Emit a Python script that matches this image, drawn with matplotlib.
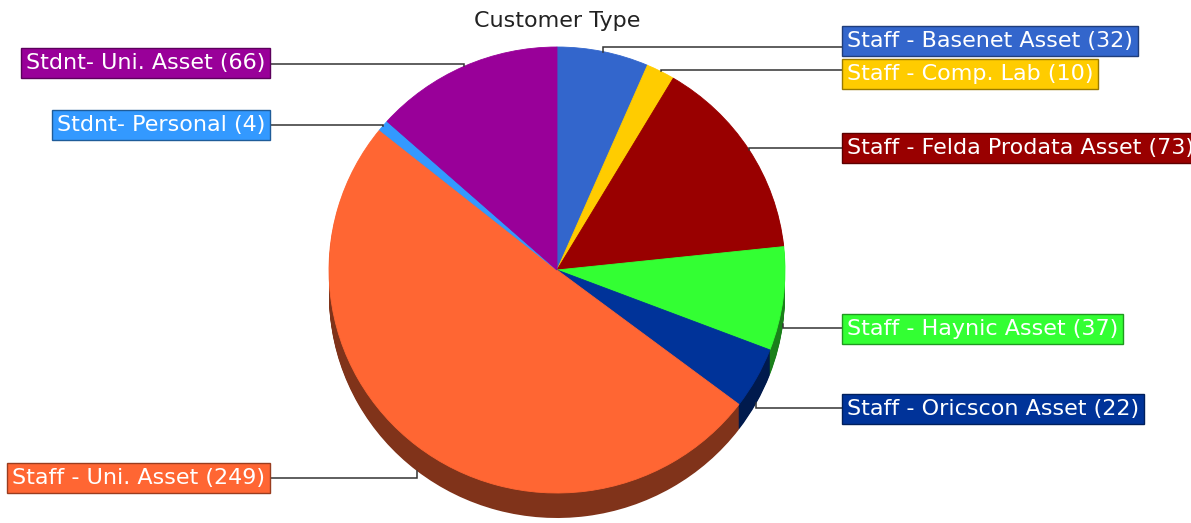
import matplotlib.pyplot as plt
import numpy as np
from matplotlib.colors import to_rgb

# data
labels = ['Staff - Basenet Asset', 'Staff - Comp. Lab', 'Staff - Felda Prodata Asset',
          'Staff - Haynic Asset', 'Staff - Oricscon Asset', 'Staff - Uni. Asset',
          'Stdnt- Personal', 'Stdnt- Uni. Asset']
values = [32, 10, 73, 37, 22, 249, 4, 66]
colors = ['#3366CC', '#FFCC00', '#990000', '#33FF33', '#003399', '#FF6633',
          '#3399FF', '#990099']
sides = ['right', 'right', 'right', 'right', 'right', 'left', 'left', 'left']
label_y = [41, 74, 148, 329, 409, 478, 125, 63]
leader_y = [47, 70, 148, 328, 408, 478, 125, 64]

# layout (pixels)
W, H = 1191, 523
cx, cy = 557, 270
rx, ry = 228, 223
depth = 25
k = rx / ry  # y data units per pixel, so a circle of radius rx looks like rx x ry
fs = 16

fig = plt.figure(figsize=(W / 100, H / 100), dpi=100)
ax = fig.add_axes([0, 0, 1, 1])


def dark(c, f=0.5):
    r, g, b = to_rgb(c)
    return (r * f, g * f, b * f)


# side of the pie: stacked darker copies
for d in range(depth, 0, -1):
    ws, _ = ax.pie(values, colors=[dark(c) for c in colors], startangle=-90,
                   counterclock=True, radius=rx, center=(cx, (cy + d) * k),
                   frame=True, wedgeprops=dict(linewidth=0))

# top face
wedges, _ = ax.pie(values, colors=colors, startangle=-90, counterclock=True,
                   radius=rx, center=(cx, cy * k), frame=True,
                   wedgeprops=dict(linewidth=0.6))
for w in wedges:
    w.set_edgecolor(w.get_facecolor())

ax.set_aspect('auto')
ax.set_xlim(0, W)
ax.set_ylim(H * k, 0)
ax.axis('off')

pad = 0.22
pad_px = pad * fs * 100 / 72
for w, lab, v, c, side, ly, lly in zip(wedges, labels, values, colors, sides,
                                        label_y, leader_y):
    mid = np.deg2rad((w.theta1 + w.theta2) / 2)
    axp = cx + rx * np.cos(mid)
    ayp = cy + ry * np.sin(mid)
    if np.sin(mid) > 0:
        ayp += depth
    if side == 'right':
        x0 = 842
        tx, ha = x0 + pad_px, 'left'
    else:
        x0 = 270
        tx, ha = x0 - pad_px, 'right'
    ax.plot([x0, axp, axp], [lly * k, lly * k, ayp * k], color='#333333', lw=1.1,
            solid_joinstyle='miter')
    ax.text(tx, ly * k, f'{lab} ({v})', ha=ha, va='center', color='white',
            fontsize=fs, family='DejaVu Sans',
            bbox=dict(boxstyle=f'square,pad={pad}', facecolor=c,
                      edgecolor=dark(c, 0.6), linewidth=1))

ax.text(cx, 21 * k, 'Customer Type', ha='center', va='center', fontsize=fs,
        color='#222222', family='DejaVu Sans')

fig.savefig('out.png', dpi=100)
